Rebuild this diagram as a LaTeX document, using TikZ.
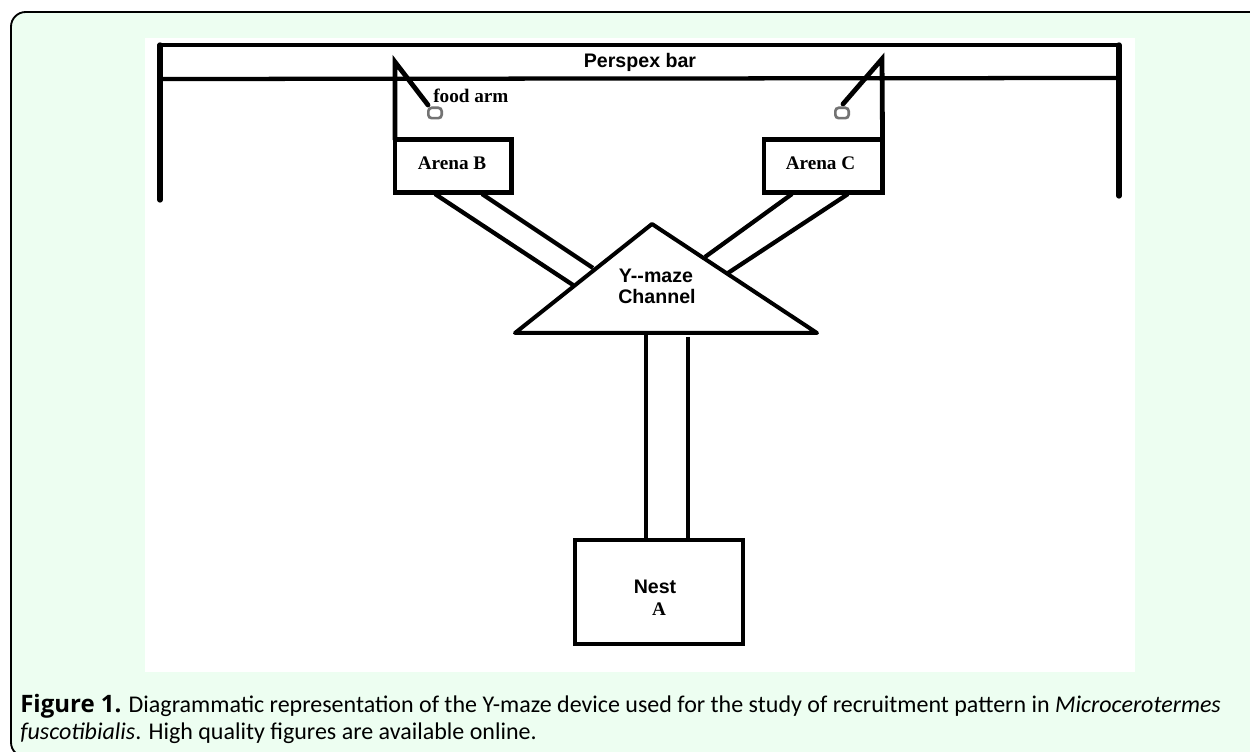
\documentclass[tikz,border=0pt]{standalone}
\usepackage{fontspec}
\setmainfont{Carlito}
\newfontfamily\arialf{Liberation Sans}
\newfontfamily\timesf{Liberation Serif}
\newfontfamily\capbold{Open Sans}
\definecolor{panel}{RGB}{237,254,241}
\tikzset{
  px/.style={x=0.75pt,y=-0.75pt},
  wall/.style={line width=4pt,black,line cap=round,line join=miter},
  thin wall/.style={line width=3.2pt,black,line cap=round},
  box/.style={draw=black,line width=3.7pt,fill=white,inner sep=0pt,outer sep=0pt,minimum width=#1},
  ring/.style={draw=black!55,line width=2pt,rounded corners=2.5pt,minimum width=10pt,minimum height=7.75pt,inner sep=0pt},
  serifl/.style={font=\timesf\bfseries\fontsize{14.4}{16}\selectfont,inner sep=0pt},
  sansl/.style={font=\arialf\bfseries\fontsize{14.7}{16}\selectfont,inner sep=0pt,align=center},
  caption/.style={anchor=base west,inner sep=0pt,font=\fontsize{18}{20}\selectfont}
}
\begin{document}
\begin{tikzpicture}[px]
\useasboundingbox (0,0) rectangle (1250,752);
\fill[white] (0,0) rectangle (1250,752);
\fill[panel,rounded corners=11pt] (11,12) -- (1270,12) -- (1270,757) -- (11,757) -- cycle;
\draw[line width=1.4pt,black,rounded corners=11pt] (1270,12) -- (11,12) -- (11,757) -- (1270,757);
\fill[white] (145,38) rectangle (1135,672);
% bar
\coordinate (tl) at (160,45);
\coordinate (tr) at (1119,45);
\coordinate (ml) at (160,79);
\coordinate (mr) at (1119,78);
\coordinate (bl) at (160,200);
\coordinate (br) at (1119,196);
\draw[wall] (bl) -- (tl);
\draw[wall] (tr) -- (br);
\draw[thin wall] (tl) -- (tr);
\draw[thin wall] (ml) -- (mr);
\node[sansl] (bar) at (640,62) {Perspex bar};
% arenas
\node[box=87.4pt,minimum height=39.75pt] (arenaB) at (453.25,166) {};
\node[box=88.9pt,minimum height=40.3pt] (arenaC) at (823.25,166) {};
\node[serifl] (arenaBl) at (452,163) {Arena B};
\node[serifl] (arenaCl) at (820.5,163) {Arena C};
% food arms
\coordinate (apexB) at (395,62);
\coordinate (apexC) at (882,59);
\coordinate (endB) at (428,105);
\coordinate (endC) at (843,104);
\draw[thin wall,line width=3.6pt] (arenaB.north west) -- (apexB) -- (endB);
\draw[thin wall,line width=3.6pt] (arenaC.north east) -- (apexC) -- (endC);
\node[ring] (foodB) at (435,113) {};
\node[ring] (foodC) at (842,113) {};
\node[serifl,anchor=west] (foodlabel) at (433,96) {food arm};
% triangle
\coordinate (tA) at (652,224);
\coordinate (tL) at (515,333);
\coordinate (tR) at (817,333);
\draw[wall,line width=3pt,line join=round] (tA) -- (tL) -- (tR) -- cycle;
\node[sansl] (ymaze) at (656,276) {Y--maze};
\node[sansl] (chan) at (657,296) {Channel};
% channels
\coordinate (b1) at (435,194);
\coordinate (b2) at (482,194);
\coordinate (b3) at (573,285);
\coordinate (b4) at (593,268);
\coordinate (c1) at (792,194);
\coordinate (c2) at (848,194);
\coordinate (c3) at (705,257);
\coordinate (c4) at (728,273);
\draw[thin wall,line cap=butt] (b1) -- (b3);
\draw[thin wall,line cap=butt] (b2) -- (b4);
\draw[thin wall,line cap=butt] (c1) -- (c3);
\draw[thin wall,line cap=butt] (c2) -- (c4);
% nest
\node[box=126pt,minimum height=78pt] (nest) at (659,592) {};
\node[sansl] (nestl) at (655,587) {Nest};
\node[serifl] (nesta) at (659,609) {A};
\coordinate (n1) at (646,540);
\coordinate (n2) at (688,540);
\coordinate (t1) at (646,333);
\coordinate (t2) at (688,337);
\draw[wall,line cap=butt,line width=3.4pt] (t1) -- (n1);
\draw[wall,line cap=butt,line width=3.4pt] (t2) -- (n2);
% caption
\node[caption] (cap1) at (20,712) {{\capbold\bfseries Figure 1.} Diagrammatic representation of the Y-maze device used for the study of recruitment pattern in \textit{Microcerotermes}};
\node[caption] (cap2) at (20,739) {\textit{fuscotibialis}. High quality figures are available online.};
\end{tikzpicture}
\end{document}
